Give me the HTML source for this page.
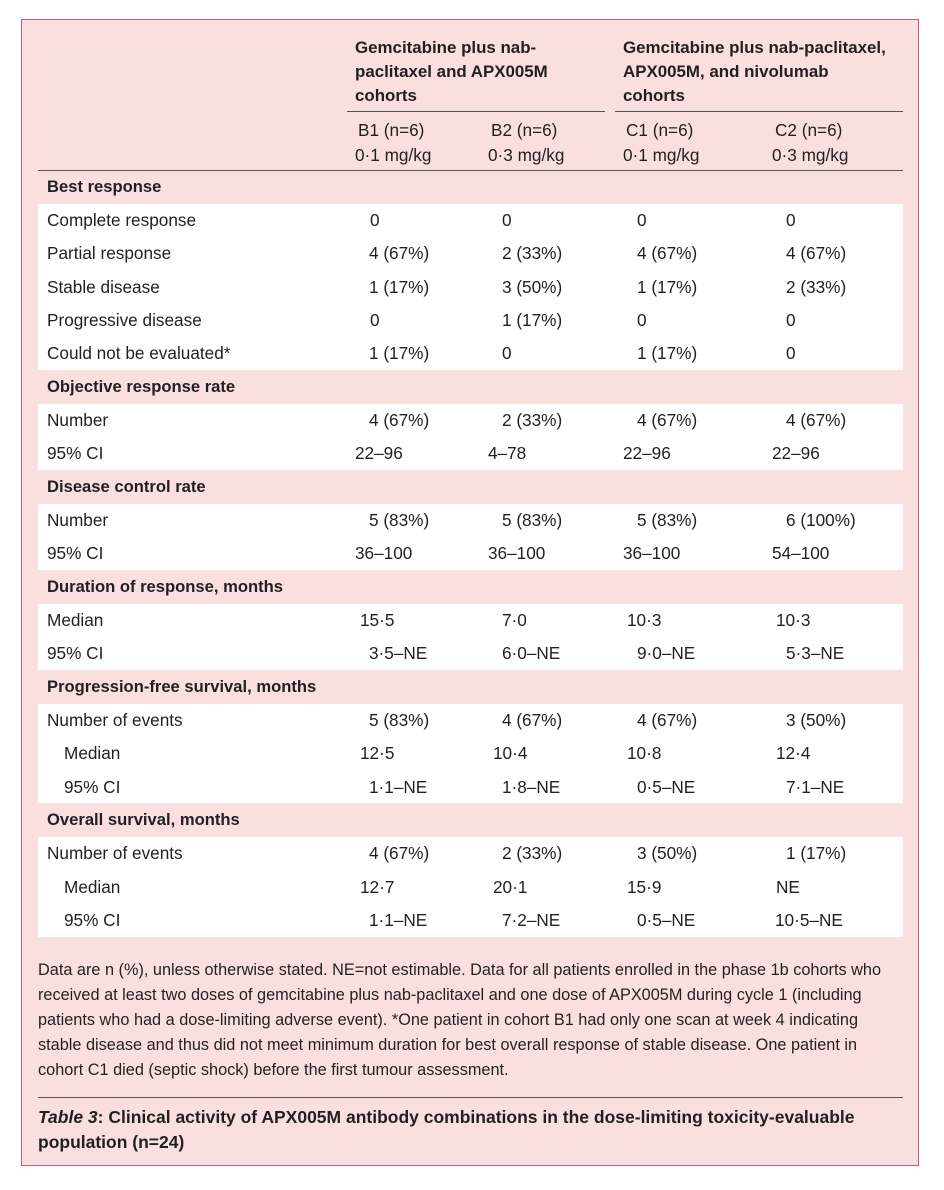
<!DOCTYPE html>
<html><head><meta charset="utf-8"><style>
body{margin:0;width:944px;height:1190px;background:#fff;position:relative;font-family:"Liberation Sans",sans-serif;color:#231f20;overflow:hidden}
#box{position:absolute;left:21px;top:19px;width:898px;height:1147px;background:#f9e0df;border:1.5px solid #c8577f;box-sizing:border-box}
.w{position:absolute;left:38px;width:865px;background:#fff}
.t{position:absolute;font-size:17.2px;line-height:22px;white-space:nowrap}
.b{font-weight:bold;font-size:16.6px}
.l{position:absolute;height:1.3px;background:#555}
</style></head><body>
<div id="box"></div>
<div class="w" style="top:204px;height:166px"></div>
<div class="w" style="top:404px;height:66px"></div>
<div class="w" style="top:504px;height:66px"></div>
<div class="w" style="top:604px;height:66px"></div>
<div class="w" style="top:704px;height:99px"></div>
<div class="w" style="top:837px;height:100px"></div>
<div class="l" style="left:347px;width:258px;top:111px"></div>
<div class="l" style="left:615px;width:288px;top:111px"></div>
<div class="l" style="left:38px;width:865px;top:170px"></div>
<div class="l" style="left:38px;width:865px;top:1097px"></div>
<div class="t b" style="left:355px;top:36px;line-height:24px;font-size:16.9px">Gemcitabine plus nab-<br>paclitaxel and APX005M<br>cohorts</div>
<div class="t b" style="left:623px;top:36px;line-height:24px;font-size:16.9px">Gemcitabine plus nab-paclitaxel,<br>APX005M, and nivolumab<br>cohorts</div>
<div class="t" style="left:358px;top:118px;line-height:25px">B1 (n=6)<br><span style="margin-left:-3px">0·1 mg/kg</span></div>
<div class="t" style="left:491px;top:118px;line-height:25px">B2 (n=6)<br><span style="margin-left:-3px">0·3 mg/kg</span></div>
<div class="t" style="left:626px;top:118px;line-height:25px">C1 (n=6)<br><span style="margin-left:-3px">0·1 mg/kg</span></div>
<div class="t" style="left:775px;top:118px;line-height:25px">C2 (n=6)<br><span style="margin-left:-3px">0·3 mg/kg</span></div>
<div id="rows"></div>
<div class="t" style="left:38px;top:958px;line-height:25px;font-size:16.3px">Data are n (%), unless otherwise stated. NE=not estimable. Data for all patients enrolled in the phase 1b cohorts who<br>received at least two doses of gemcitabine plus nab-paclitaxel and one dose of APX005M during cycle 1 (including<br>patients who had a dose-limiting adverse event). *One patient in cohort B1 had only one scan at week 4 indicating<br>stable disease and thus did not meet minimum duration for best overall response of stable disease. One patient in<br>cohort C1 died (septic shock) before the first tumour assessment.</div>
<div class="t b" style="left:38px;top:1105px;line-height:25px;font-size:17.5px"><i>Table 3</i>: Clinical activity of APX005M antibody combinations in the dose-limiting toxicity-evaluable<br>population (n=24)</div>
<script>
var R=[
[187,"Best response",1,47],
[220,"Complete response",0,47,[[370,"0"],[502,"0"],[637,"0"],[786,"0"]]],
[253,"Partial response",0,47,[[369,"4 (67%)"],[502,"2 (33%)"],[637,"4 (67%)"],[786,"4 (67%)"]]],
[287,"Stable disease",0,47,[[369,"1 (17%)"],[502,"3 (50%)"],[637,"1 (17%)"],[786,"2 (33%)"]]],
[320,"Progressive disease",0,47,[[370,"0"],[502,"1 (17%)"],[637,"0"],[786,"0"]]],
[353,"Could not be evaluated*",0,47,[[369,"1 (17%)"],[502,"0"],[637,"1 (17%)"],[786,"0"]]],
[387,"Objective response rate",1,47],
[420,"Number",0,47,[[369,"4 (67%)"],[502,"2 (33%)"],[637,"4 (67%)"],[786,"4 (67%)"]]],
[453,"95% CI",0,47,[[355,"22–96"],[488,"4–78"],[623,"22–96"],[772,"22–96"]]],
[487,"Disease control rate",1,47],
[520,"Number",0,47,[[369,"5 (83%)"],[502,"5 (83%)"],[637,"5 (83%)"],[786,"6 (100%)"]]],
[553,"95% CI",0,47,[[355,"36–100"],[488,"36–100"],[623,"36–100"],[772,"54–100"]]],
[587,"Duration of response, months",1,47],
[620,"Median",0,47,[[360,"15·5"],[502,"7·0"],[627,"10·3"],[776,"10·3"]]],
[653,"95% CI",0,47,[[369,"3·5–NE"],[502,"6·0–NE"],[637,"9·0–NE"],[786,"5·3–NE"]]],
[687,"Progression-free survival, months",1,47],
[720,"Number of events",0,47,[[369,"5 (83%)"],[502,"4 (67%)"],[637,"4 (67%)"],[786,"3 (50%)"]]],
[753,"Median",0,64,[[360,"12·5"],[493,"10·4"],[627,"10·8"],[776,"12·4"]]],
[787,"95% CI",0,64,[[369,"1·1–NE"],[502,"1·8–NE"],[637,"0·5–NE"],[786,"7·1–NE"]]],
[820,"Overall survival, months",1,47],
[853,"Number of events",0,47,[[369,"4 (67%)"],[502,"2 (33%)"],[637,"3 (50%)"],[786,"1 (17%)"]]],
[887,"Median",0,64,[[360,"12·7"],[493,"20·1"],[627,"15·9"],[776,"NE"]]],
[920,"95% CI",0,64,[[369,"1·1–NE"],[502,"7·2–NE"],[637,"0·5–NE"],[775,"10·5–NE"]]]
];
var h="";
R.forEach(function(r){
h+='<div class="t'+(r[2]?' b':'')+'" style="left:'+r[3]+'px;top:'+(r[0]-11)+'px">'+r[1]+'</div>';
(r[4]||[]).forEach(function(c){h+='<div class="t" style="left:'+c[0]+'px;top:'+(r[0]-11)+'px">'+c[1]+'</div>';});
});
document.getElementById("rows").innerHTML=h;
</script>
</body></html>
